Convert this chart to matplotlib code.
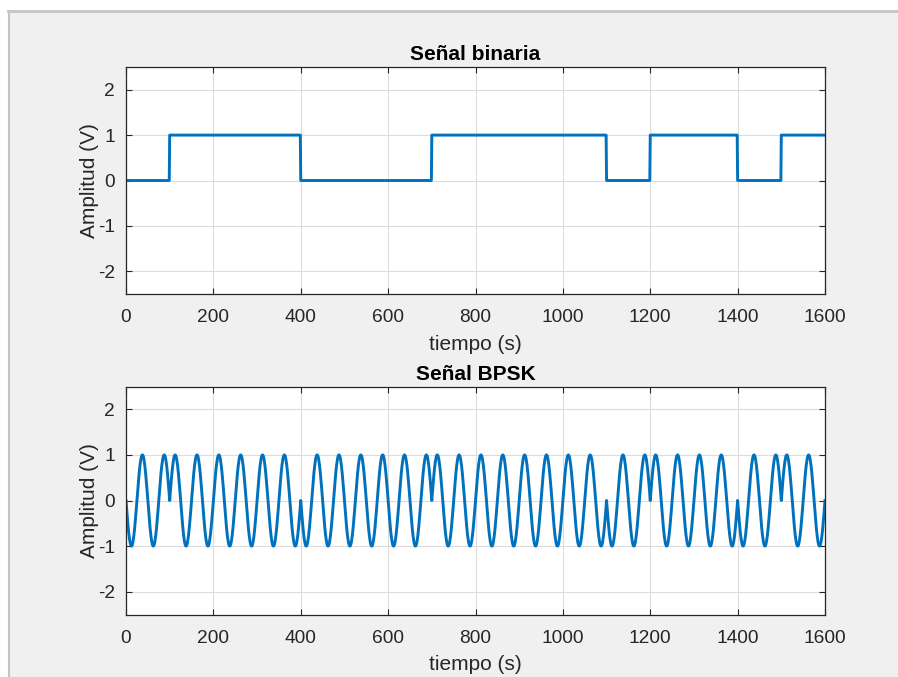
import numpy as np
import matplotlib.pyplot as plt
from matplotlib.patches import Rectangle

# bit sequence, one bit per 100 s
bits = [0, 1, 1, 1, 0, 0, 0, 1, 1, 1, 1, 0, 1, 1, 0, 1]
bit_time = 100
carrier_period = 50
x_ticks = [0, 200, 400, 600, 800, 1000, 1200, 1400, 1600]
y_ticks = [-2, -1, 0, 1, 2]

t = np.arange(0, len(bits) * bit_time + 1, 1.0)
idx = np.minimum((t // bit_time).astype(int), len(bits) - 1)
binary = np.array(bits)[idx]
bpsk = (2 * binary - 1) * np.sin(2 * np.pi * t / carrier_period)

plt.rcParams["font.family"] = ["Liberation Sans", "DejaVu Sans"]
plt.rcParams["axes.unicode_minus"] = False
dark = "#262626"
blue = "#0072BD"

fig = plt.figure(figsize=(8.98, 6.77), dpi=100, facecolor="white")
W, H = 898, 677
# window-like frame
fig.patches.append(Rectangle((8 / W, 0), 1, 1 - 12 / H, transform=fig.transFigure,
                             facecolor="#f0f0f0", edgecolor="none", zorder=-10))
fig.lines.append(plt.Line2D([8 / W, 1], [1 - 11 / H, 1 - 11 / H], transform=fig.transFigure,
                            color="#c4c4c4", lw=2, zorder=-9))
fig.lines.append(plt.Line2D([8.5 / W, 8.5 / W], [0, 1 - 11 / H], transform=fig.transFigure,
                            color="#c4c4c4", lw=1.5, zorder=-9))

ax1 = fig.add_axes([126 / W, 1 - 294 / H, 699 / W, 227 / H])
ax2 = fig.add_axes([126 / W, 1 - 614.5 / H, 699 / W, 228 / H])

panels = [(ax1, binary, "Señal binaria"), (ax2, bpsk, "Señal BPSK")]
for ax, y, title in panels:
    ax.plot(t, y, color=blue, lw=2.1)
    ax.set_xlim(0, 1600)
    ax.set_ylim(-2.5, 2.5)
    ax.set_xticks(x_ticks)
    ax.set_yticks(y_ticks)
    ax.grid(True, color="#dcdcdc", lw=0.8)
    ax.set_axisbelow(True)
    ax.tick_params(direction="in", top=True, right=True, length=4, width=0.8,
                   colors=dark, labelsize=13.8)
    ax.tick_params(axis="x", pad=11)
    ax.tick_params(axis="y", pad=8)
    for s in ax.spines.values():
        s.set_color(dark)
        s.set_linewidth(0.9)
    ax.set_title(title, fontsize=15, fontweight="bold", color="black", pad=5)
    ax.set_xlabel("tiempo (s)", fontsize=15, color=dark, labelpad=6)
    ax.set_ylabel("Amplitud (V)", fontsize=15, color=dark, labelpad=-1)

fig.savefig("out.png", dpi=100)
